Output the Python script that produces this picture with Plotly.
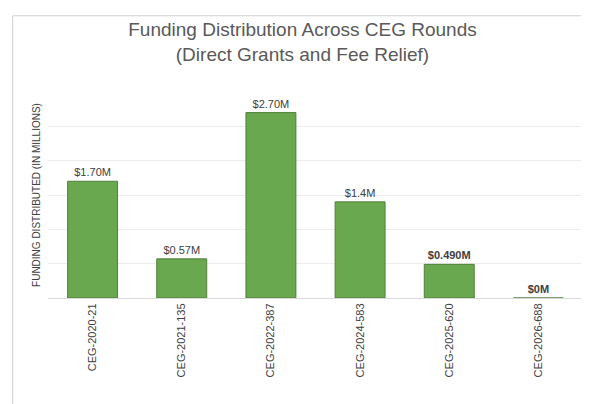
import plotly.graph_objects as go

rounds = ["CEG-2020-21", "CEG-2021-135", "CEG-2022-387", "CEG-2024-583", "CEG-2025-620", "CEG-2026-688"]
funding = [1.70, 0.57, 2.70, 1.4, 0.49, 0.0]
labels = ["$1.70M", "$0.57M", "$2.70M", "$1.4M", "<b>$0.490M</b>", "<b>$0M</b>"]

fig = go.Figure(go.Bar(
    x=rounds, y=funding, text=labels, textposition="outside",
    textfont=dict(size=11, color="#404040"),
    marker=dict(color="#6aa84f", line=dict(color="#4f7f3a", width=1)),
    cliponaxis=False,
))

fig.update_layout(
    width=589, height=404,
    margin=dict(l=40, r=14, t=84, b=114),
    paper_bgcolor="white", plot_bgcolor="white",
    font=dict(family="Liberation Sans, Arial", color="#595959"),
    title=dict(text="Funding Distribution Across CEG Rounds<br>(Direct Grants and Fee Relief)",
               x=0.5, xanchor="center", y=0.93, yanchor="top",
               font=dict(size=19, color="#595959")),
    bargap=0.44,
    showlegend=False,
)
fig.update_xaxes(tickangle=-90, tickfont=dict(size=11, color="#404040"),
                 showline=True, linecolor="#d9d9d9", ticks="")
fig.update_yaxes(range=[0, 3.0], dtick=0.5, showticklabels=False,
                 gridcolor="#ececec", zeroline=False,
                 title=dict(text="FUNDING DISTRIBUTED (IN MILLIONS)", standoff=4,
                            font=dict(size=10, color="#404040")))
fig.add_shape(type="rect", xref="paper", yref="paper", x0=-0.066, x1=1.02, y0=-0.52, y1=1.37,
              line=dict(color="#d0d0d0", width=1))

fig.write_html("out.html")
